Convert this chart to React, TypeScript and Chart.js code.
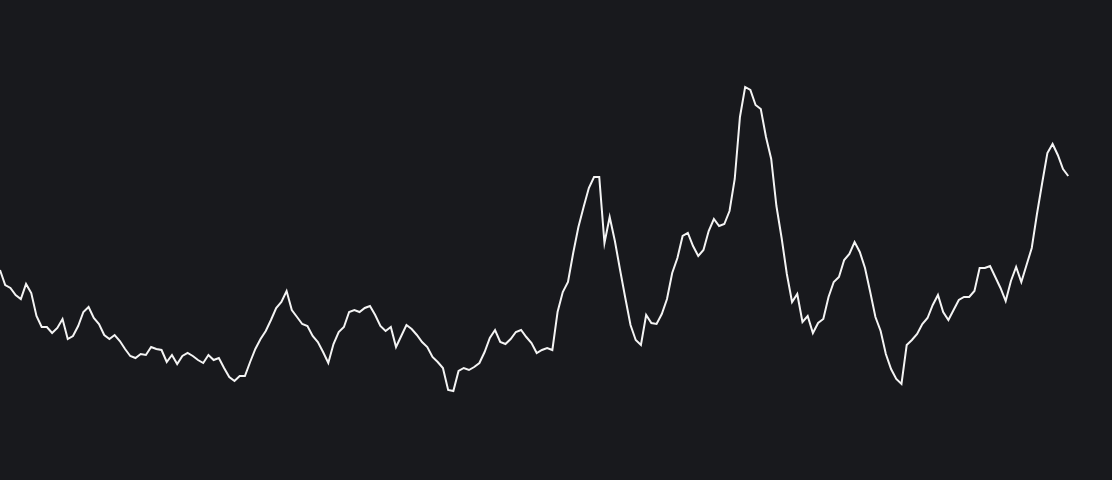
import React, { useEffect, useRef } from "react";

import Chart from "chart.js/auto";

// one reading per step
const values = [
  52.5, 48.75, 48, 46.25, 45.25, 49, 46.75, 41, 38.25, 38.25,
  36.75, 38, 40.25, 35.25, 36, 38.5, 42, 43.25, 40.5, 39,
  36.25, 35.25, 36.25, 34.75, 32.75, 31, 30.5, 31.5, 31.25, 33.25,
  32.75, 32.5, 29.5, 31.25, 29, 31, 31.75, 31, 30, 29.25,
  31.25, 30, 30.5, 28, 25.75, 24.75, 26, 26, 29.5, 32.75,
  35.25, 37.25, 40, 43, 44.5, 47.25, 42.5, 40.75, 39, 38.5,
  36, 34.5, 32, 29.25, 34, 37, 38.25, 42, 42.5, 42,
  43, 43.5, 41.25, 38.5, 37.25, 38.25, 33.25, 36, 38.75, 37.75,
  36.25, 34.5, 33.25, 30.75, 29.5, 28, 22.5, 22.25, 27.25, 28,
  27.5, 28.25, 29.25, 32, 35.5, 37.5, 34.5, 34, 35.25, 37,
  37.5, 35.75, 34.25, 31.75, 32.5, 33, 32.5, 42, 47, 49.5,
  56.75, 63.25, 68.25, 73, 75.75, 75.75, 59.25, 65.75, 59.75, 52.5,
  45.5, 38.75, 35, 33.75, 41.25, 39.25, 39, 41.5, 45.25, 51.75,
  55.5, 61, 61.75, 58.5, 56, 57.5, 62.25, 65.25, 63.5, 64,
  67.25, 75.25, 90.75, 98.25, 97.5, 93.75, 92.75, 85.75, 80.25, 68.5,
  60.5, 51.5, 44.5, 46.5, 39.5, 41, 36.75, 39.25, 40.25, 45.75,
  49.5, 50.75, 55, 56.5, 59.5, 57, 53, 47, 40.75, 37.25,
  31.5, 27.75, 25.25, 24, 33.75, 35, 36.5, 39, 40.5, 43.75,
  46.25, 42, 40, 42.5, 45, 45.75, 45.75, 47.25, 53, 53,
  53.5, 50.75, 48, 44.75, 49.75, 53.25, 49.5, 53.75, 58, 66.5,
  74.25, 81.75, 84, 81.25, 77.75, 76,
];

const steps = values.map((_, i) => i);

export default function App() {
  const chartRef = useRef(null) as any;
  const chartInstance = useRef(null) as any;

  useEffect(() => {
    if (chartInstance.current) {
      chartInstance.current.destroy();
    }

    const ctx = chartRef.current?.getContext("2d");

    chartInstance.current = new Chart(ctx, {
      type: "line",
      data: {
        datasets: [
          {
            data: steps.map((x, i) => ({ x, y: values[i] })),
            borderColor: "#f4f4f4",
            borderWidth: 2,
            pointRadius: 0,
            tension: 0,
            fill: false,
          },
        ],
      },
      options: {
        animation: false,
        responsive: true,
        maintainAspectRatio: false,
        layout: { padding: 0 },
        plugins: {
          legend: { display: false },
          tooltip: { enabled: false },
        },
        scales: {
          x: { type: "linear", display: false, min: 0, max: 213.4 },
          y: { display: false, min: 0, max: 120 },
        },
      },
    });

    return () => {
      if (chartInstance.current) {
        chartInstance.current.destroy();
      }
    };
  }, []);

  return (
    <div
      style={{
        position: "fixed",
        left: 0,
        top: 0,
        width: 1112,
        height: 480,
        background: "#18191d",
      }}
    >
      <canvas ref={chartRef}></canvas>
    </div>
  );
}
